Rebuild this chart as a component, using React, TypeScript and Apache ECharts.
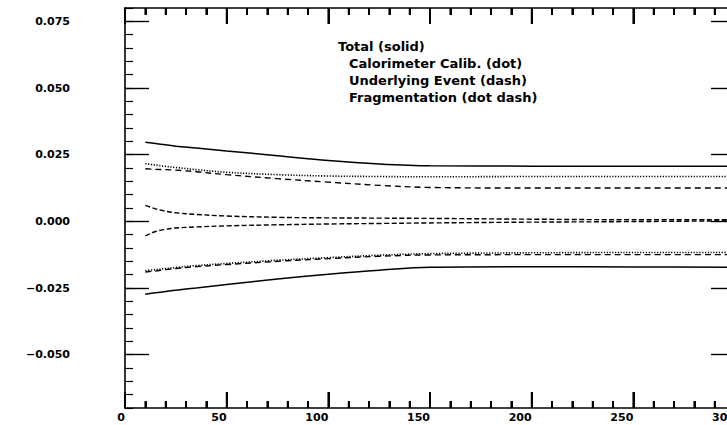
import React, { useEffect, useRef } from "react";
import * as echarts from "echarts";

const X = [10, 15, 20, 25, 35, 50, 75, 100, 125, 150, 200, 250, 300];
const totalUpper = [0.0297, 0.0292, 0.0287, 0.0282, 0.0275, 0.0264, 0.0246, 0.0228, 0.0215, 0.0208, 0.0207, 0.0207, 0.0207];
const totalLower = [-0.0273, -0.0268, -0.0263, -0.0258, -0.025, -0.0237, -0.0216, -0.0198, -0.0183, -0.0172, -0.017, -0.0171, -0.0172];
const calUpper = [0.0216, 0.0211, 0.0206, 0.0202, 0.0194, 0.0184, 0.0175, 0.017, 0.0168, 0.0167, 0.0168, 0.0168, 0.0168];
const calLower = [-0.0185, -0.0181, -0.0177, -0.0173, -0.0166, -0.0158, -0.0146, -0.0136, -0.0127, -0.0121, -0.0118, -0.0117, -0.0117];
const ueUpper = [0.0197, 0.0195, 0.0194, 0.0192, 0.0186, 0.0175, 0.016, 0.0147, 0.0135, 0.0127, 0.0125, 0.0125, 0.0125];
const ueLower = [-0.019, -0.0186, -0.0181, -0.0177, -0.017, -0.0162, -0.015, -0.014, -0.0131, -0.0126, -0.0125, -0.0125, -0.0125];
const fragUpper = [0.006, 0.0047, 0.0038, 0.0032, 0.0026, 0.002, 0.0015, 0.0013, 0.0012, 0.0011, 0.0008, 0.0006, 0.0006];
const fragLower = [-0.0055, -0.0038, -0.003, -0.0025, -0.0021, -0.0017, -0.0013, -0.001, -0.0008, -0.0006, -0.0003, -0.0001, 0.0002];

const yMajorTicks = [-0.05, -0.025, 0, 0.025, 0.05, 0.075];
const xMajorTicks = [0, 50, 100, 150, 200, 250, 300];
const xMinorTicks = [10, 20, 30, 40, 60, 70, 80, 90, 110, 120, 130, 140, 160, 170, 180, 190, 210, 220, 230, 240, 260, 270, 280, 290];
const legendLines = [
  "Total (solid)",
  "Calorimeter Calib. (dot)",
  "Underlying Event (dash)",
  "Fragmentation (dot dash)",
];

const FONT = "DejaVu Sans";
const Y_MIN = -0.07;
const Y_MAX = 0.08;

export default function App() {
  const ref = useRef<HTMLDivElement>(null);
  useEffect(() => {
    if (!ref.current) return;
    const chart = echarts.init(ref.current, null, { renderer: "svg" });
    const mk = (arr: number[]) => X.map((x, i) => [x, arr[i]]);
    const line = (name: string, arr: number[], type: any, width: number) => ({
      name,
      type: "line",
      data: mk(arr),
      smooth: 0.35,
      showSymbol: false,
      symbol: "none",
      xAxisIndex: 0,
      yAxisIndex: 0,
      lineStyle: { color: "#000", width, type },
      silent: true,
    });
    const yBase = {
      type: "value",
      min: Y_MIN,
      max: Y_MAX,
      splitLine: { show: false },
    };
    const xBase = {
      type: "value",
      min: 0,
      max: 300,
      interval: 50,
      splitLine: { show: false },
      axisLine: { show: true, onZero: false, lineStyle: { color: "#000", width: 1.6 } },
      axisTick: { show: true, inside: true, length: 16, lineStyle: { color: "#000", width: 2 } },
      minorTick: { show: true, splitNumber: 5, length: 7, lineStyle: { color: "#000", width: 2 } },
    };
    const yMinor = (pos: string) => ({
      ...yBase,
      position: pos,
      interval: 0.005,
      axisLine: { show: true, onZero: false, lineStyle: { color: "#000", width: 1.6 } },
      axisTick: { show: true, inside: true, length: 8, lineStyle: { color: "#000", width: 1.2 } },
      axisLabel: { show: false },
    });
    const yMajor = (pos: string, labels: boolean) => ({
      ...yBase,
      position: pos,
      axisLine: { show: false, onZero: false },
      axisTick: {
        show: true,
        inside: true,
        length: 24,
        customValues: yMajorTicks,
        lineStyle: { color: "#000", width: 1.4 },
      },
      axisLabel: {
        show: labels,
        customValues: yMajorTicks,
        margin: 55,
        color: "#000",
        fontFamily: FONT,
        fontWeight: "bold",
        fontSize: 11,
        formatter: (v: number) => {
          const s = Math.abs(v).toFixed(3);
          return v < -1e-9 ? "\u2212" + s : s;
        },
      },
    });
    const tickData = [
      ...xMajorTicks.map((v) => [v, 1]),
      ...xMinorTicks.map((v) => [v, 0]),
    ];
    const tickSeries = {
      type: "custom",
      name: "x ticks",
      xAxisIndex: 0,
      yAxisIndex: 0,
      clip: false,
      silent: true,
      z: 5,
      encode: { x: 0 },
      data: tickData,
      renderItem: (params: any, api: any) => {
        const xv = api.value(0);
        const len = api.value(1) ? 16 : 7;
        const pb = api.coord([xv, Y_MIN]);
        const pt = api.coord([xv, Y_MAX]);
        const w = 1.8;
        const st = { fill: "#000" };
        return {
          type: "group",
          children: [
            { type: "rect", shape: { x: pb[0] - w / 2, y: pb[1] - len, width: w, height: len }, style: st },
            { type: "rect", shape: { x: pt[0] - w / 2, y: pt[1], width: w, height: len }, style: st },
          ],
        };
      },
    };
    chart.setOption({
      animation: false,
      backgroundColor: "#fff",
      grid: { left: 125, top: 8, width: 610, height: 400, containLabel: false, outerBoundsMode: "none" },
      xAxis: [
        {
          ...xBase,
          position: "bottom",
          axisLabel: {
            show: true,
            align: "right",
            margin: 4,
            color: "#000",
            fontFamily: FONT,
            fontWeight: "bold",
            fontSize: 11,
          },
        },
        { ...xBase, position: "top", axisLabel: { show: false } },
      ],
      yAxis: [yMinor("left"), yMajor("left", true), yMinor("right"), yMajor("right", false)],
      series: [
        line("Total upper", totalUpper, "solid", 1.5),
        line("Total lower", totalLower, "solid", 1.5),
        line("Calorimeter upper", calUpper, [1.2, 1.6], 1.6),
        line("Calorimeter lower", calLower, [1.2, 1.6], 1.6),
        line("UE upper", ueUpper, [6, 4], 1.4),
        line("UE lower", ueLower, [6, 4], 1.4),
        line("Frag upper", fragUpper, [5, 2.5], 1.4),
        line("Frag lower", fragLower, [5, 2.5], 1.4),
        tickSeries,
      ],
      graphic: legendLines.map((t, i) => ({
        type: "text",
        left: i === 0 ? 338 : 349,
        top: 40 + i * 17,
        style: {
          text: t,
          fill: "#000",
          font: `bold 13px "${FONT}"`,
        },
      })),
    });
    return () => chart.dispose();
  }, []);
  return (
    <div
      ref={ref}
      style={{ position: "fixed", left: 0, top: 0, width: 727, height: 425, background: "#fff" }}
    />
  );
}
